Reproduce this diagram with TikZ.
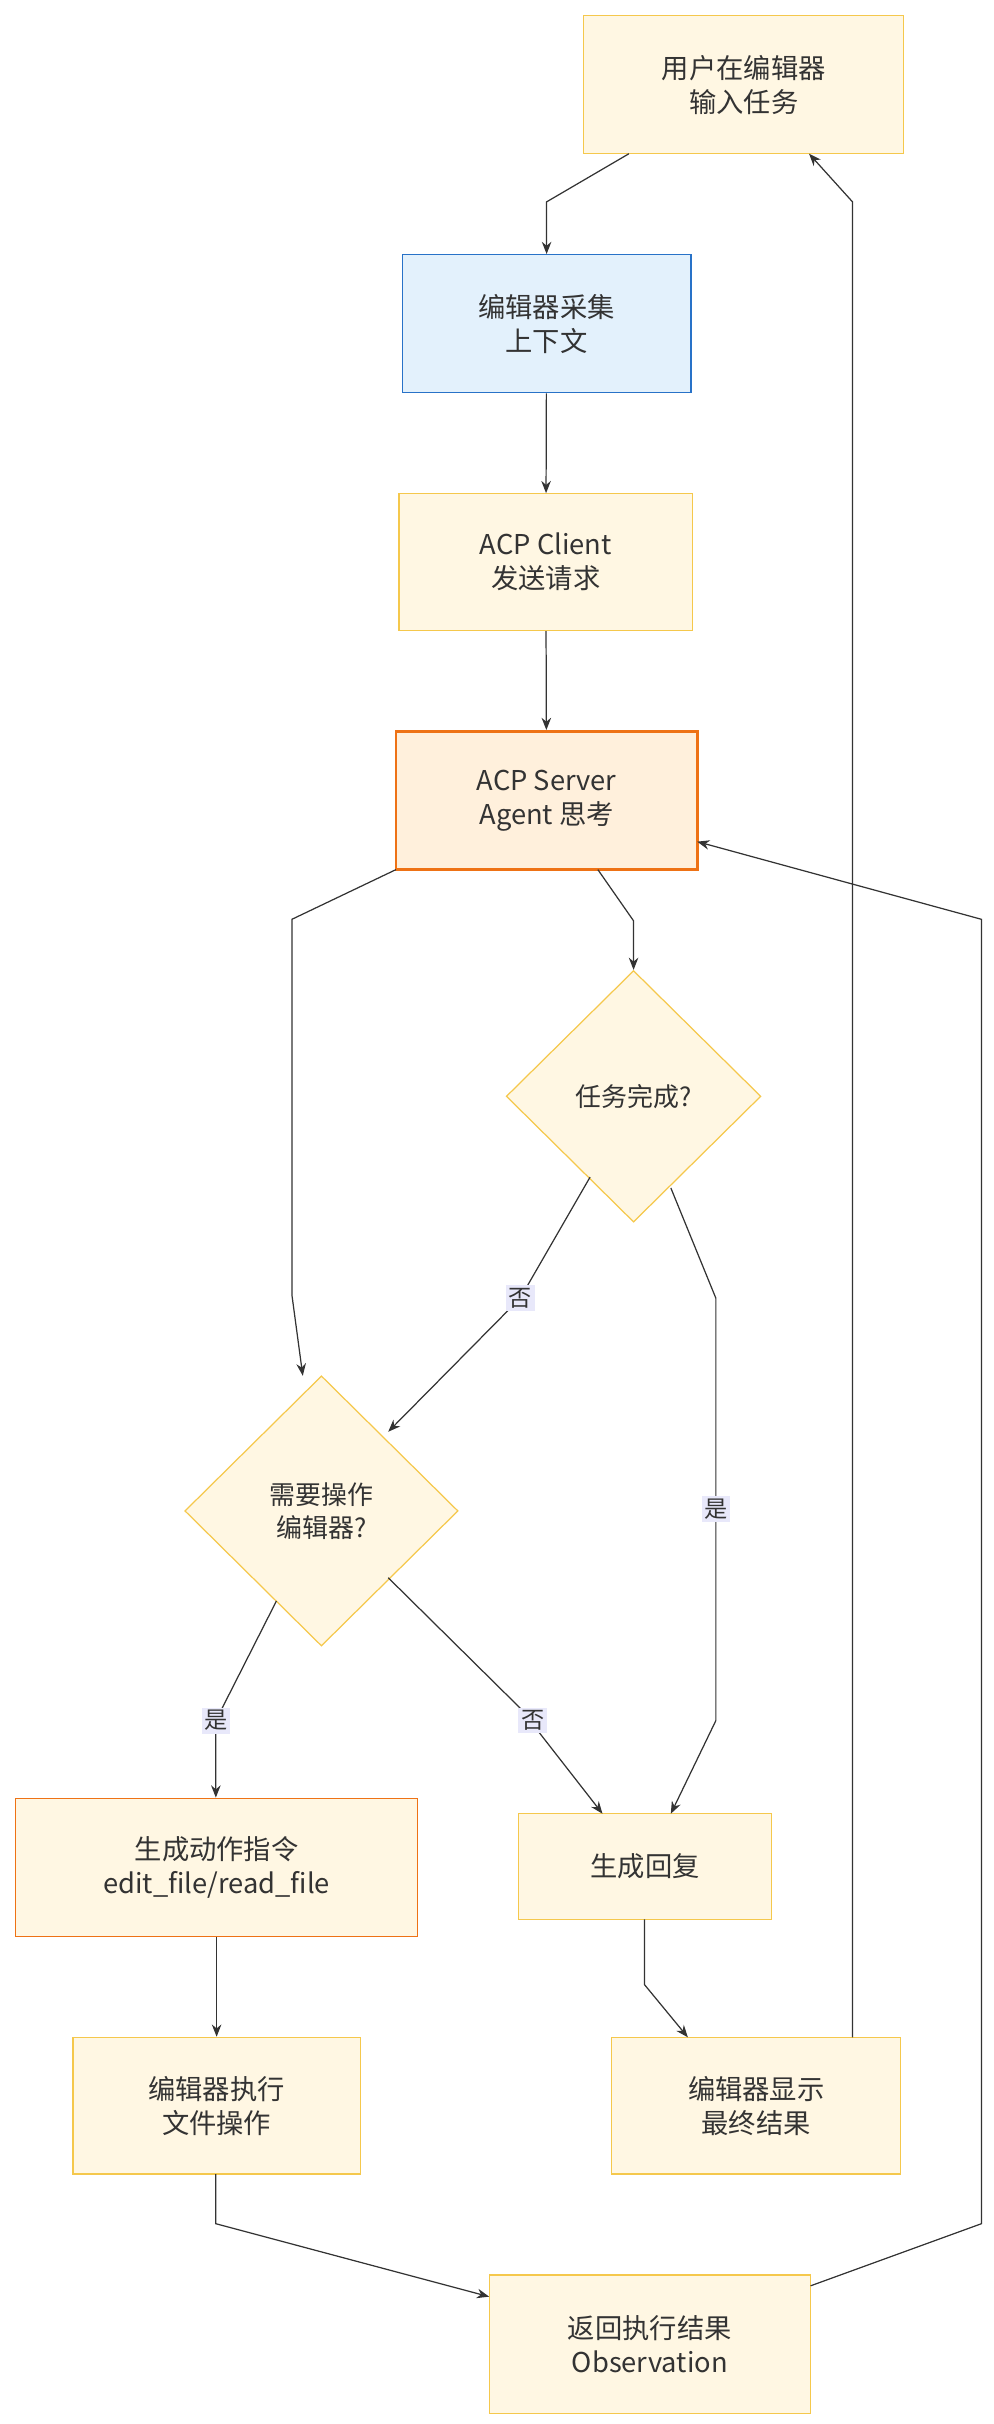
\documentclass[tikz,border=0pt]{standalone}
\usepackage{fontspec}
\setmainfont{Noto Sans CJK SC}
\usetikzlibrary{shapes.geometric,arrows.meta}
\definecolor{yf}{HTML}{FFF7E3}
\definecolor{yb}{HTML}{F5C84C}
\definecolor{bf}{HTML}{E3F1FC}
\definecolor{bb}{HTML}{2872C8}
\definecolor{of}{HTML}{FFF0DC}
\definecolor{ob}{HTML}{EE7215}
\definecolor{lab}{HTML}{E8E8FA}
\definecolor{ln}{HTML}{333333}
\begin{document}
\begin{tikzpicture}[x=0.04cm,y=-0.04cm,
 box/.style={draw=yb,fill=yf,line width=0.9pt,align=center,font=\fontsize{20}{25}\selectfont,text=ln,inner sep=0pt},
 dia/.style={diamond,draw=yb,fill=yf,line width=0.9pt,align=center,font=\fontsize{19}{24}\selectfont,text=ln,inner sep=0pt,aspect=1},
 e/.style={draw=ln,line width=0.9pt,-{Stealth[length=9pt,width=7pt]}},
 lb/.style={fill=lab,font=\fontsize{17}{20}\selectfont,text=ln,inner sep=2pt}]
\useasboundingbox (0,0) rectangle (640,1561);
\node[box,minimum width=206*0.04cm,minimum height=89*0.04cm] (A) at (479,54.5) {用户在编辑器\\输入任务};
\node[box,draw=bb,fill=bf,minimum width=186*0.04cm,minimum height=89*0.04cm] (B) at (352,208.5) {编辑器采集\\上下文};
\node[box,minimum width=189*0.04cm,minimum height=88*0.04cm] (C) at (351.5,362) {ACP Client\\发送请求};
\node[box,draw=ob,fill=of,line width=2pt,minimum width=194*0.04cm,minimum height=89*0.04cm] (D) at (352,515.5) {ACP Server\\Agent 思考};
\node[dia,minimum width=164*0.04cm,minimum height=162*0.04cm] (E) at (408,706) {任务完成?};
\node[dia,minimum width=176*0.04cm,minimum height=174*0.04cm] (F) at (207,973) {需要操作\\编辑器?};
\node[box,draw=ob,minimum width=259*0.04cm,minimum height=89*0.04cm] (G) at (139.5,1202.5) {生成动作指令\\edit\_file/read\_file};
\node[box,minimum width=163*0.04cm,minimum height=68*0.04cm] (H) at (415.5,1202) {生成回复};
\node[box,minimum width=185*0.04cm,minimum height=88*0.04cm] (I) at (139.5,1356) {编辑器执行\\文件操作};
\node[box,minimum width=186*0.04cm,minimum height=88*0.04cm] (J) at (487,1356) {编辑器显示\\最终结果};
\node[box,minimum width=207*0.04cm,minimum height=89*0.04cm] (K) at (418.5,1509.5) {返回执行结果\\Observation};
\draw[e] (405,99) -- (352,130) -- (B.north);
\draw[e] (B) -- (C);
\draw[e] (C) -- (D);
\draw[e] (385,560) -- (408,593) -- (E.north);
\draw[e] (255,560) -- (188,592) -- (188,834) -- (195,886);
\draw[e] (380,758) -- (335,836) -- (250,922);
\node[lb] (l1) at (335,836) {否};
\draw[e] (432,765) -- (461,836) -- (461,1108) -- (432,1168);
\node[lb] (l2) at (461,972) {是};
\draw[e] (178,1031) -- (139,1108) -- (G.north-|139,0);
\node[lb] (l3) at (139,1108) {是};
\draw[e] (250,1016) -- (335,1100) -- (388,1168);
\node[lb] (l4) at (343,1108) {否};
\draw[e] (G) -- (I);
\draw[e] (415,1236) -- (415,1278) -- (443,1312);
\draw[e] (549,1312) -- (549,1278) -- (549,130) -- (521,99);
\draw[e] (139,1400) -- (139,1432) -- (315,1479);
\draw[e] (522,1472) -- (632,1432) -- (632,592) -- (449,542);
\end{tikzpicture}
\end{document}
